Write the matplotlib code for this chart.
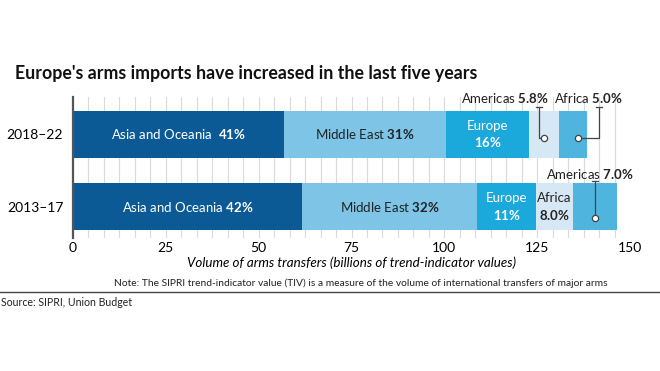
import numpy as np
import matplotlib
matplotlib.use('Agg')
import matplotlib.pyplot as plt
from matplotlib.lines import Line2D

plt.rcParams['font.family'] = ['Lato', 'DejaVu Sans']
plt.rcParams['mathtext.fontset'] = 'custom'
plt.rcParams['mathtext.rm'] = 'Lato'
plt.rcParams['mathtext.bf'] = 'Lato:bold'

# Data (billions of TIV), segments in stacking order
periods = ['2013–17', '2018–22']
seg_2018 = [56.8, 43.7, 22.4, 8.1, 7.5]   # Asia, Middle East, Europe, Americas, Africa
seg_2013 = [61.6, 47.3, 15.7, 10.1, 11.7]  # Asia, Middle East, Europe, Africa, Americas
names_2018 = ['Asia and Oceania', 'Middle East', 'Europe', 'Americas', 'Africa']
names_2013 = ['Asia and Oceania', 'Middle East', 'Europe', 'Africa', 'Americas']
pct_2018 = ['41%', '31%', '16%', '5.8%', '5.0%']
pct_2013 = ['42%', '32%', '11%', '8.0%', '7.0%']
x_ticks = [0, 25, 50, 75, 100, 125, 150]

# colours by stacking position
seg_colors = ['#0b5a95', '#7dc4e6', '#1ba8da', '#d6e8f5', '#4fb4de']

W, H = 660, 371
fig = plt.figure(figsize=(W / 100, H / 100), dpi=100)
ax = fig.add_axes([73 / W, 1 - 238 / H, (630 - 73) / W, (238 - 97) / H])

ypos = {'2013–17': 0, '2018–22': 1}
bar_h = 0.65

starts = {}
for period, segs in [('2018–22', seg_2018), ('2013–17', seg_2013)]:
    left = np.concatenate([[0], np.cumsum(segs)[:-1]])
    starts[period] = left
    ax.barh(ypos[period], segs, left=left, height=bar_h, color=seg_colors,
            edgecolor='none', zorder=2)

# gridlines every 25/6 units
for gx in np.arange(25 / 6, 150.01, 25 / 6):
    ax.axvline(gx, color='#dadada', lw=0.8, zorder=1)

ax.set_xlim(0, 150)
ax.set_ylim(-0.43, 1.517)
ax.set_xticks(x_ticks)
ax.set_xticklabels([str(t) for t in x_ticks], fontsize=10)
ax.set_yticks([ypos[p] for p in periods])
ax.set_yticklabels(periods, fontsize=10)
ax.tick_params(axis='both', length=0)
ax.tick_params(axis='y', pad=7)
ax.tick_params(axis='x', pad=3)
for s in ['top', 'right', 'bottom']:
    ax.spines[s].set_visible(False)
ax.spines['left'].set_color('#555555')
ax.spines['left'].set_linewidth(1.6)
ax.spines['left'].set_zorder(3)

ax.set_xlabel('Volume of arms transfers (billions of trend-indicator values)',
              fontsize=9.6, style='italic', labelpad=2)


def mid(period, i, segs):
    return starts[period][i] + segs[i] / 2


# in-bar labels
y18, y13 = ypos['2018–22'], ypos['2013–17']
ax.text(mid('2018–22', 0, seg_2018), y18, names_2018[0] + '  $\\mathbf{41\\%}$',
        color='white', fontsize=9.5, ha='center', va='center', zorder=4)
ax.text(mid('2018–22', 1, seg_2018), y18, names_2018[1] + ' $\\mathbf{31\\%}$',
        color='#222222', fontsize=9.5, ha='center', va='center', zorder=4)
ax.text(mid('2018–22', 2, seg_2018), y18, names_2018[2] + '\n$\\mathbf{16\\%}$',
        color='white', fontsize=9.5, ha='center', va='center', zorder=4,
        linespacing=1.3)
ax.text(mid('2013–17', 0, seg_2013), y13, names_2013[0] + ' $\\mathbf{42\\%}$',
        color='white', fontsize=9.5, ha='center', va='center', zorder=4)
ax.text(mid('2013–17', 1, seg_2013), y13, names_2013[1] + ' $\\mathbf{32\\%}$',
        color='#222222', fontsize=9.5, ha='center', va='center', zorder=4)
ax.text(mid('2013–17', 2, seg_2013), y13, names_2013[2] + '\n$\\mathbf{11\\%}$',
        color='white', fontsize=9.5, ha='center', va='center', zorder=4,
        linespacing=1.3)
ax.text(mid('2013–17', 3, seg_2013), y13, names_2013[3] + '\n$\\mathbf{8.0\\%}$',
        color='#222222', fontsize=9.5, ha='center', va='center', zorder=4,
        linespacing=1.3)

# callouts
lc = '#444444'


def callout(xm, ym, xl, ytop):
    ax.plot([xm, xl, xl], [ym, ym, ytop], color=lc, lw=0.9, zorder=5,
            clip_on=False)
    ax.plot([xl - 0.8, xl + 0.8], [ytop, ytop], color=lc, lw=0.9, zorder=5,
            clip_on=False)
    ax.plot(xm, ym, 'o', ms=4.5, mfc='white', mec=lc, mew=0.9, zorder=6,
            clip_on=False)


callout(mid('2018–22', 3, seg_2018), 0.95, 125.5, 1.38)
callout(mid('2018–22', 4, seg_2018) + 1.2, 0.95, 141.7, 1.38)
callout(mid('2013–17', 4, seg_2013), -0.15, mid('2013–17', 4, seg_2013), 0.36)

ax.text(116.3, 1.50, 'Americas $\\mathbf{5.8\\%}$', fontsize=9.5, ha='center',
        va='center', color='#222222', clip_on=False)
ax.text(138.7, 1.50, 'Africa $\\mathbf{5.0\\%}$', fontsize=9.5, ha='center',
        va='center', color='#222222', clip_on=False)
ax.text(139.2, 0.455, 'Americas $\\mathbf{7.0\\%}$', fontsize=9.5, ha='center',
        va='center', color='#222222', clip_on=False)

# title, note, source
fig.text(15 / W, 1 - 73 / H, "Europe's arms imports have increased in the last five years",
         fontsize=12.8, weight='bold', va='center', ha='left', color='#111111')
fig.text(361 / W, 1 - 283 / H,
         'Note: The SIPRI trend-indicator value (TIV) is a measure of the volume '
         'of international transfers of major arms',
         fontsize=7.4, ha='center', va='center', color='#222222')
fig.add_artist(Line2D([0, 1], [1 - 292 / H, 1 - 292 / H], color='#444444', lw=1))
fig.text(1 / W, 1 - 302 / H, 'Source: SIPRI, Union Budget', fontsize=7.6,
         ha='left', va='center', color='#222222')

fig.savefig('out.png', dpi=100)
